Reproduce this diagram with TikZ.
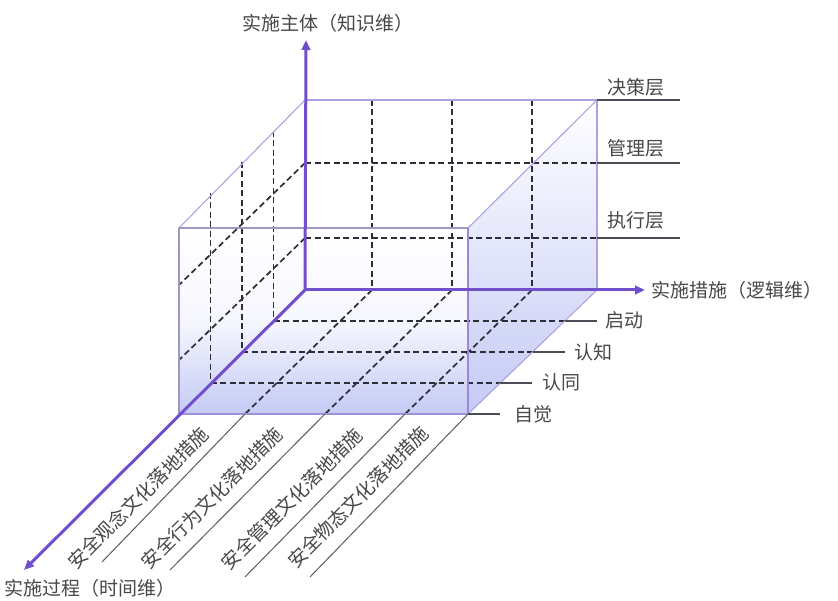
\documentclass[tikz,border=0pt]{standalone}
\usepackage{fontspec}
\setmainfont{Noto Sans CJK SC}
\usetikzlibrary{arrows.meta}
\definecolor{axisc}{RGB}{112,78,204}
\definecolor{edgec}{RGB}{172,162,226}
\definecolor{boxblue}{RGB}{196,202,245}
\definecolor{txt}{RGB}{72,72,72}
\definecolor{dashc}{RGB}{45,45,58}
\definecolor{extc}{RGB}{100,88,92}
\begin{document}
\begin{tikzpicture}[x=1pt,y=-1pt,
  lbl/.style={font=\fontsize{19}{19}\selectfont, text=txt, inner sep=0pt},
  gridline/.style={draw=dashc, line width=1.7pt, dash pattern=on 6pt off 3.5pt},
  boxedge/.style={draw=edgec, line width=1.1pt},
  tickline/.style={draw=dashc!85, line width=1.2pt},
  extline/.style={draw=extc, line width=1pt},
  axisline/.style={draw=axisc, line width=3pt, -{Triangle[length=10pt,width=8.5pt]}},
]
\useasboundingbox (0,0) rectangle (838,601);
\fill[white] (0,0) rectangle (838,601);

% corners
\coordinate (O) at (305,290);
\coordinate (BRB) at (597,290);
\coordinate (BLT) at (305,100);
\coordinate (BRT) at (597,100);
\coordinate (FLB) at (179,414);
\coordinate (FRB) at (468,414);
\coordinate (FLT) at (179,228);
\coordinate (FRT) at (468,228);
\coordinate (Ztip) at (306,40);
\coordinate (Xtip) at (645,290);
\coordinate (Ytip) at (24,570);

% fills
\shade[top color=white, bottom color=boxblue, middle color=boxblue!15]
  (FLT) -- (FRT) -- (FRB) -- (FLB) -- cycle;
\shade[top color=white, bottom color=boxblue, middle color=boxblue!50]
  (FRB) -- (BRB) -- (BRT) -- (FRT) -- cycle;

% back face grid
\foreach \x in {372,452,532} { \draw[gridline] (\x,100) -- (\x,290); }
\draw[gridline] (305,163) -- (597,163);
\draw[gridline] (305,238) -- (597,238);
% left face grid
\draw[gridline] (305,163) -- (179,285);
\draw[gridline] (305,238) -- (179,360);
\draw[gridline] (273.5,131) -- (273.5,321);
\draw[gridline] (242,162) -- (242,352);
\draw[gridline] (210.5,193) -- (210.5,383);
% floor grid
\draw[gridline] (273.5,321) -- (565,321);
\draw[gridline] (242,352) -- (532.5,352);
\draw[gridline] (210.5,383) -- (500,383);
\draw[gridline] (372,290) -- (245,414);
\draw[gridline] (452,290) -- (325,414);
\draw[gridline] (532,290) -- (405,414);

% box edges
\draw[boxedge, draw=edgec!70!gray] (FLB) -- (FLT) -- (FRT);
\draw[boxedge] (FLT) -- (BLT);
\draw[boxedge] (FRT) -- (BRT);
\draw[boxedge] (BLT) -- (BRT) -- (BRB);
\draw[boxedge] (BRB) -- (FRB);
\draw[boxedge, draw=edgec!70!axisc, line width=1.4pt] (FRT) -- (FRB);
\draw[boxedge, draw=edgec!80!axisc, line width=1.4pt] (FLB) -- (FRB);

% level lines
\draw[tickline] (BRT) -- (680,100);
\draw[tickline] (597,163) -- (680,163);
\draw[tickline] (597,238) -- (680,238);
% floor ticks
\draw[tickline] (565,321) -- (597,321);
\draw[tickline] (532.5,352) -- (565,352);
\draw[tickline] (500,383) -- (532,383);
\draw[tickline] (FRB) -- (500,414);
% extension lines
\draw[extline] (245,414) -- (102,562);
\draw[extline] (325,414) -- (170,570);
\draw[extline] (405,414) -- (245,577);
\draw[extline] (FRB) -- (310,577);

% axes
\draw[axisline] (O) -- (Ztip);
\draw[axisline] (O) -- (Xtip);
\draw[axisline] (O) -- (Ytip);

% labels
\node[lbl] (zl) at (328,23) {实施主体（知识维）};
\node[lbl, anchor=west] (xl) at (651,290) {实施措施（逻辑维）};
\node[lbl, anchor=west] (yl) at (4,588) {实施过程（时间维）};
\node[lbl] (l1) at (636,87) {决策层};
\node[lbl] (l2) at (636,148) {管理层};
\node[lbl] (l3) at (636,220) {执行层};
\node[lbl, anchor=west] (s1) at (605,320) {启动};
\node[lbl, anchor=west] (s2) at (574,352) {认知};
\node[lbl, anchor=west] (s3) at (542,382) {认同};
\node[lbl, anchor=west] (s4) at (514,414) {自觉};
\node[lbl, rotate=45] (m1) at (138,498) {安全观念文化落地措施};
\node[lbl, rotate=45] (m2) at (212,498) {安全行为文化落地措施};
\node[lbl, rotate=45] (m3) at (292,499) {安全管理文化落地措施};
\node[lbl, rotate=45] (m4) at (358,497) {安全物态文化落地措施};
\end{tikzpicture}
\end{document}
